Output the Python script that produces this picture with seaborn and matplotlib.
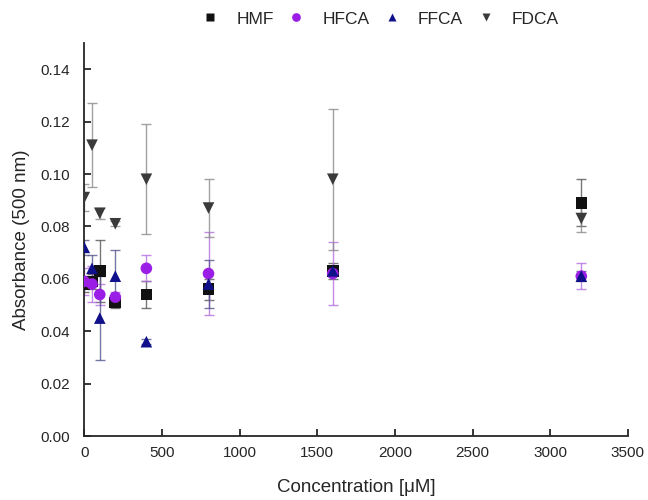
import numpy as np
import pandas as pd
import matplotlib
matplotlib.use("Agg")
import matplotlib.pyplot as plt
import seaborn as sns

# concentrations (uM)
conc = [0, 50, 100, 200, 400, 800, 1600, 3200]

# absorbance at 500 nm
hmf = [0.058, 0.059, 0.063, 0.051, 0.054, 0.056, 0.063, 0.089]
hmf_err = [0.003, 0.003, 0.012, 0.002, 0.005, 0.004, 0.003, 0.009]
hfca = [0.059, 0.058, 0.054, 0.053, 0.064, 0.062, 0.062, 0.061]
hfca_err = [0.005, 0.007, 0.004, 0.002, 0.005, 0.016, 0.012, 0.005]
ffca = [0.072, 0.064, 0.045, 0.061, 0.036, 0.058, 0.063, 0.061]
ffca_err = [0.003, 0.005, 0.016, 0.010, 0.001, 0.009, 0.002, 0.002]
fdca = [0.091, 0.111, 0.085, 0.081, 0.098, 0.087, 0.098, 0.083]
fdca_err = [0.005, 0.016, 0.002, 0.001, 0.021, 0.011, 0.027, 0.005]

names = ["HMF", "HFCA", "FFCA", "FDCA"]
colors = {"HMF": "#111111", "HFCA": "#9b1ee6", "FFCA": "#10108a", "FDCA": "#3a3a3a"}
err_colors = {"HMF": "#555555", "HFCA": "#b56ee0", "FFCA": "#55558f", "FDCA": "#8a8a8a"}
markers = {"HMF": "s", "HFCA": "o", "FFCA": "^", "FDCA": "v"}

df = pd.DataFrame({
    "conc": conc * 4,
    "abs": hmf + hfca + ffca + fdca,
    "err": hmf_err + hfca_err + ffca_err + fdca_err,
    "compound": [n for n in names for _ in conc],
})

sns.set_style("ticks")
plt.rcParams["font.family"] = ["Liberation Sans", "DejaVu Sans"]

fig = plt.figure(figsize=(6.48, 5.0), dpi=100)
ax = fig.add_axes([0.13, 0.128, 0.839, 0.786])

# error bars first so markers sit on top
for n in names:
    d = df[df["compound"] == n]
    ax.errorbar(d["conc"], d["abs"], yerr=d["err"], fmt="none",
                ecolor=err_colors[n], elinewidth=1.0, capsize=3.5,
                capthick=1.0, alpha=0.8, zorder=2)

sns.scatterplot(data=df, x="conc", y="abs", hue="compound", style="compound",
                palette=colors, markers=markers, s=70, edgecolor="none",
                ax=ax, zorder=3, legend=True)

ax.set_xlim(0, 3500)
ax.set_ylim(0, 0.15)
ax.set_xticks(np.arange(0, 3501, 500))
ax.set_yticks(np.arange(0, 0.141, 0.02))
ax.yaxis.set_major_formatter(matplotlib.ticker.FormatStrFormatter("%.2f"))
ax.set_xlabel("Concentration [\u03bcM]", fontsize=13.5, labelpad=14)
ax.set_ylabel("Absorbance (500 nm)", fontsize=13.5, labelpad=8)
ax.tick_params(labelsize=11, width=1.3, length=5, direction="in")
ax.tick_params(axis="y", pad=10)
ax.tick_params(axis="x", pad=7)
for s in ["left", "bottom"]:
    ax.spines[s].set_linewidth(1.3)
sns.despine(ax=ax)

handles, labels = ax.get_legend_handles_labels()
ax.get_legend().remove()
fig.legend(handles, labels, loc="center", bbox_to_anchor=(0.58, 0.962),
           ncol=4, frameon=False, fontsize=12.5, handletextpad=0.5,
           columnspacing=0.3, markerscale=0.75)

fig.savefig("out.png", dpi=100)
